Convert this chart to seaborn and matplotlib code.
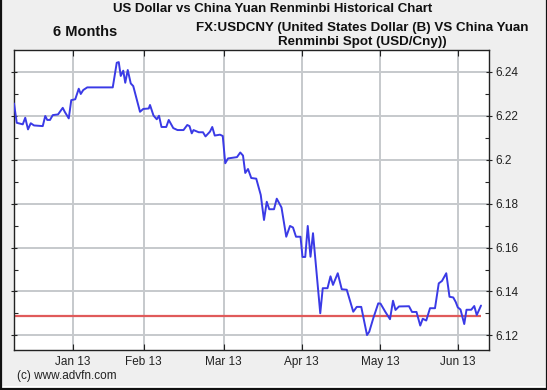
import pandas as pd
import matplotlib
matplotlib.use("Agg")
from matplotlib import pyplot as plt
from matplotlib.lines import Line2D
from matplotlib.ticker import MultipleLocator, FuncFormatter
import seaborn as sns

# session index along the time axis (roughly one step per trading day)
session = [0.0, 1.1, 3.5, 4.5, 5.6, 6.7, 8.0, 11.5, 12.5, 13.3,
           14.4, 15.5, 17.6, 19.5, 20.3, 21.9, 22.9, 24.5, 25.9, 26.7,
           27.7, 29.3, 39.5, 41.1, 41.9, 42.7, 43.7, 44.5, 45.5, 46.7,
           47.7, 50.4, 51.7, 53.9, 54.4, 55.8, 57.1, 58.0, 59.0, 60.9,
           61.9, 63.7, 65.4, 67.8, 69.3, 70.2, 71.1, 71.8, 73.9, 75.6,
           76.6, 78.4, 79.3, 80.3, 82.4, 83.5, 84.5, 85.6, 89.2, 90.5,
           91.6, 92.5, 93.6, 94.9, 96.9, 98.7, 100.0, 101.1, 102.1, 104.0,
           105.1, 107.0, 108.9, 110.4, 111.6, 112.8, 114.6, 115.4, 116.5, 117.5,
           118.6, 119.6, 122.5, 123.5, 125.4, 126.6, 127.6, 129.5, 131.1, 133.1,
           135.7, 137.1, 138.9, 141.2, 142.1, 143.7, 145.7, 146.6, 148.5, 150.4,
           151.6, 152.6, 154.0, 158.0, 159.2, 161.0, 162.5, 163.5, 164.9, 166.4,
           168.4, 169.9, 171.2, 172.9, 174.2, 175.7, 176.7, 177.5, 178.6, 180.1,
           181.0, 182.9, 184.1, 185.1, 186.8]
rate = [6.2255, 6.2167, 6.2160, 6.2190, 6.2137, 6.2165, 6.2155, 6.2152, 6.2198, 6.2180,
        6.2180, 6.2202, 6.2205, 6.2235, 6.2217, 6.2187, 6.2270, 6.2274, 6.2322, 6.2298,
        6.2316, 6.2328, 6.2328, 6.2440, 6.2443, 6.2380, 6.2404, 6.2349, 6.2407, 6.2346,
        6.2334, 6.2217, 6.2230, 6.2232, 6.2248, 6.2200, 6.2183, 6.2199, 6.2148, 6.2148,
        6.2180, 6.2143, 6.2134, 6.2134, 6.2157, 6.2152, 6.2119, 6.2134, 6.2124, 6.2124,
        6.2105, 6.2127, 6.2148, 6.2109, 6.2113, 6.2107, 6.1983, 6.2005, 6.2011, 6.2032,
        6.2018, 6.1939, 6.1957, 6.1916, 6.1913, 6.1839, 6.1725, 6.1808, 6.1774, 6.1774,
        6.1822, 6.1782, 6.1649, 6.1698, 6.1691, 6.1649, 6.1649, 6.1557, 6.1557, 6.1698,
        6.1558, 6.1665, 6.1301, 6.1415, 6.1415, 6.1469, 6.1430, 6.1483, 6.1410, 6.1408,
        6.1308, 6.1330, 6.1330, 6.1202, 6.1217, 6.1278, 6.1346, 6.1345, 6.1308, 6.1274,
        6.1358, 6.1316, 6.1332, 6.1333, 6.1307, 6.1307, 6.1245, 6.1276, 6.1268, 6.1324,
        6.1324, 6.1437, 6.1448, 6.1483, 6.1376, 6.1373, 6.1352, 6.1328, 6.1318, 6.1252,
        6.1317, 6.1317, 6.1334, 6.1293, 6.1336]
ref_level = 6.129

month_labels = ["Jan 13", "Feb 13", "Mar 13", "Apr 13", "May 13", "Jun 13"]
month_pos = [23.4, 51.9, 83.9, 115.1, 146.5, 177.7]


def main():
    sns.set_style("white")
    plt.rcParams["font.family"] = ["Liberation Sans", "DejaVu Sans"]

    data = pd.DataFrame({"session": session, "rate": rate})

    fig = plt.figure(figsize=(5.47, 3.90), dpi=100, facecolor="#efefef")
    ax = fig.add_axes([14 / 547, 1 - 350 / 390, 475 / 547, 300 / 390])
    ax.set_facecolor("white")

    ax.grid(True, which="major", color="#c6c9cc", linewidth=1.4)
    ax.set_axisbelow(True)

    ax.hlines(ref_level, session[0], session[-1], color="#e05a5a", linewidth=1.6, zorder=2)
    sns.lineplot(data=data, x="session", y="rate", color="#3a3ae6",
                 linewidth=1.4, ax=ax, zorder=3)

    ax.set_xlim(0, 190)
    ax.set_ylim(6.1134, 6.2498)
    ax.set_xticks(month_pos)
    ax.set_xticklabels(month_labels)
    ax.yaxis.set_major_locator(MultipleLocator(0.02))
    ax.yaxis.set_minor_locator(MultipleLocator(0.01))
    ax.yaxis.set_major_formatter(FuncFormatter(lambda v, p: ("%.2f" % v).rstrip("0")))
    ax.yaxis.tick_right()
    ax.set_xlabel("")
    ax.set_ylabel("")

    ax.tick_params(axis="x", which="major", direction="in", length=4, width=0.8,
                   top=True, bottom=True, labelsize=8.5, pad=4, colors="#222222")
    ax.tick_params(axis="y", which="major", direction="inout", length=5, width=0.8,
                   left=True, right=True, labelsize=8.5, pad=2, colors="#222222")
    ax.tick_params(axis="y", which="minor", direction="in", length=3, width=0.8,
                   left=True, right=True)
    for s in ax.spines.values():
        s.set_color("#222222")
        s.set_linewidth(1.0)

    fig.text(273 / 547, 1 - 9 / 390, "US Dollar vs China Yuan Renminbi Historical Chart",
             ha="center", va="center", fontsize=9.5, fontweight="bold", color="#111111")
    fig.text(85 / 547, 1 - 32 / 390, "6 Months", ha="center", va="center",
             fontsize=10.5, fontweight="bold", color="#111111")
    fig.text(362 / 547, 1 - 35 / 390,
             "FX:USDCNY (United States Dollar (B) VS China Yuan\nRenminbi Spot (USD/Cny))",
             ha="center", va="center", fontsize=9.6, fontweight="bold", color="#111111",
             linespacing=1.15, multialignment="center")
    fig.text(17 / 547, 1 - 376 / 390, "(c) www.advfn.com", ha="left", va="center",
             fontsize=8.5, color="#222222")

    # frame: white strip along the bottom, black lines left, right and bottom
    fig.patches.append(plt.Rectangle((0, 0), 1, 4 / 390, transform=fig.transFigure,
                                     facecolor="white", edgecolor="none"))
    for xs, ys in [((0.5 / 547, 0.5 / 547), (0, 1)),
                   ((546.5 / 547, 546.5 / 547), (0, 1)),
                   ((0, 1), (1 / 390, 1 / 390))]:
        fig.lines.append(Line2D(xs, ys, transform=fig.transFigure,
                                color="#111111", linewidth=1.6))

    fig.savefig("out.png", dpi=100, facecolor=fig.get_facecolor())


if __name__ == '__main__':
    main()
